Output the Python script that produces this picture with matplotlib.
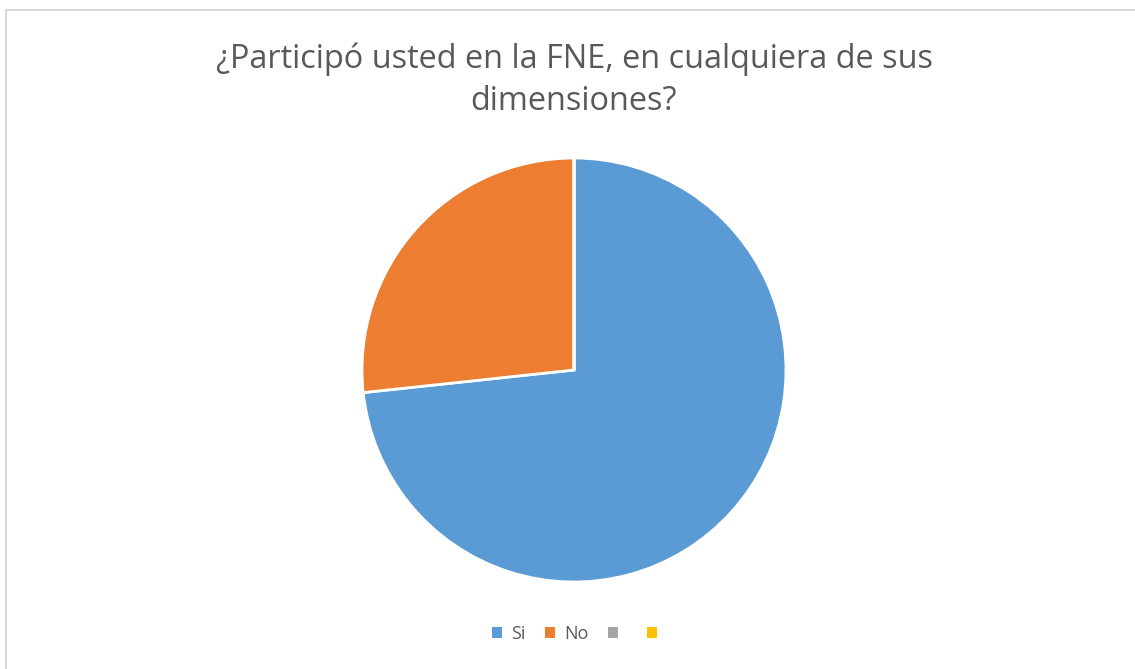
import matplotlib.pyplot as plt
from matplotlib.patches import Patch
from matplotlib.lines import Line2D

# data
categories = ["Si", "No", "", ""]
values = [73.3, 26.7, 0, 0]
colors = ["#5B9BD5", "#ED7D31", "#A5A5A5", "#FFC000"]
title = "¿Participó usted en la FNE, en cualquiera de sus\ndimensiones?"

W, H = 1135, 669
fig = plt.figure(figsize=(W / 100, H / 100), dpi=100)
plt.rcParams["font.family"] = ["Open Sans", "DejaVu Sans"]

# chart border (light gray frame, cropped on right/bottom)
fig.add_artist(Line2D([6 / W, 1], [1 - 10 / H, 1 - 10 / H], color="#D9D9D9", lw=1.5))
fig.add_artist(Line2D([6 / W, 6 / W], [0, 1 - 10 / H], color="#D9D9D9", lw=1.5))

# pie axes: centre (574, 370), radius 212 px
cx, cy, r = 574, 370, 212
ax = fig.add_axes([(cx - r) / W, (H - cy - r) / H, 2 * r / W, 2 * r / H])
ax.pie(values, colors=colors, startangle=90, counterclock=False,
       wedgeprops=dict(edgecolor="white", linewidth=2))
ax.set_xlim(-1, 1)
ax.set_ylim(-1, 1)
ax.set_aspect("equal")
ax.axis("off")

fig.text(574 / W, 1 - 80 / H, title, ha="center", va="center",
         fontsize=23.4, color="#595959", linespacing=1.36)

handles = [Patch(facecolor=c, edgecolor="none") for c in colors]
fig.legend(handles, categories, loc="center", bbox_to_anchor=(579 / W, 1 - 634 / H),
           ncol=4, frameon=False, fontsize=13, labelcolor="#595959",
           handlelength=0.55, handleheight=0.55, handletextpad=0.5, columnspacing=1.1)

fig.savefig("out.png", dpi=100, facecolor="white")
